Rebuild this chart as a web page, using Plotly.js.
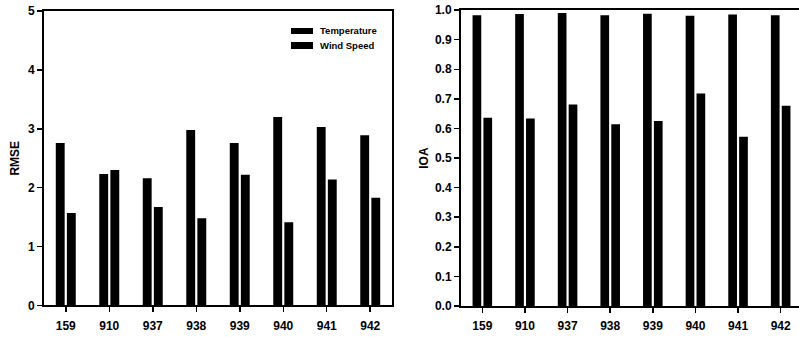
<!DOCTYPE html>
<html>
<head>
<meta charset="utf-8">
<script src="https://cdn.plot.ly/plotly-3.0.1.min.js"></script>
<style>html,body{margin:0;padding:0;background:#fff;}#chart{width:799px;height:337px;}</style>
</head>
<body>
<div id="chart"></div>
<script>
const stations = ['159', '910', '937', '938', '939', '940', '941', '942'];
const seriesNames = ['Temperature', 'Wind Speed'];
const rmseTemperature = [2.76, 2.23, 2.16, 2.98, 2.76, 3.20, 3.03, 2.89];
const rmseWindSpeed   = [1.57, 2.30, 1.67, 1.48, 2.22, 1.41, 2.14, 1.83];
const ioaTemperature  = [0.983, 0.987, 0.990, 0.983, 0.988, 0.981, 0.985, 0.983];
const ioaWindSpeed    = [0.636, 0.634, 0.681, 0.614, 0.625, 0.718, 0.572, 0.677];
const rmseTicks = [0, 1, 2, 3, 4, 5];
const ioaTicks = [0, 0.1, 0.2, 0.3, 0.4, 0.5, 0.6, 0.7, 0.8, 0.9, 1.0];

const FONT = 'Arial, "Liberation Sans", sans-serif';
const W = 799, H = 337;
const traces = [
  {type: 'bar', name: seriesNames[0], x: stations, y: rmseTemperature, xaxis: 'x', yaxis: 'y', marker: {color: '#000'}},
  {type: 'bar', name: seriesNames[1], x: stations, y: rmseWindSpeed, xaxis: 'x', yaxis: 'y', marker: {color: '#000'}},
  {type: 'bar', name: seriesNames[0], x: stations, y: ioaTemperature, xaxis: 'x2', yaxis: 'y2', marker: {color: '#000'}},
  {type: 'bar', name: seriesNames[1], x: stations, y: ioaWindSpeed, xaxis: 'x2', yaxis: 'y2', marker: {color: '#000'}}
];

const axisCommon = {
  showline: true, linecolor: '#000', linewidth: 2, ticks: 'outside', ticklen: 5,
  tickwidth: 1.5, tickcolor: '#000', showgrid: false, zeroline: false,
  tickfont: {family: FONT, size: 12, color: '#000', weight: 'bold'}
};

// legend keys (px positions converted to paper coords)
const px = x => x / W, py = y => 1 - y / H;
const legendRows = [{top: 28, bottom: 34}, {top: 42, bottom: 49}];
const shapes = legendRows.map(r => ({type: 'rect', xref: 'paper', yref: 'paper',
  x0: px(291), x1: px(313), y0: py(r.bottom), y1: py(r.top), fillcolor: '#000', line: {width: 0}}));
const annotations = legendRows.map((r, i) => ({xref: 'paper', yref: 'paper', x: px(318),
  y: py((r.top + r.bottom) / 2), xanchor: 'left', yanchor: 'middle', showarrow: false,
  text: seriesNames[i], font: {family: FONT, size: 9.5, color: '#000', weight: 'bold'}}));

const layout = {
  width: W, height: H,
  margin: {l: 0, r: 0, t: 0, b: 0},
  paper_bgcolor: '#fff', plot_bgcolor: '#fff',
  barmode: 'group', bargap: 0.49, bargroupgap: 0.2,
  showlegend: false,
  shapes: shapes, annotations: annotations,
  xaxis: Object.assign({}, axisCommon, {domain: [0.0551, 0.4906], anchor: 'y', type: 'category',
          range: [-0.5, 7.5], mirror: true, ticklabelstandoff: 3}),
  yaxis: Object.assign({}, axisCommon, {domain: [0.094, 0.967], anchor: 'x', range: [0, 5],
          tickvals: rmseTicks, mirror: true,
          title: {text: 'RMSE', standoff: 6, font: {family: FONT, size: 12, color: '#000', weight: 'bold'}}}),
  xaxis2: Object.assign({}, axisCommon, {domain: [0.577, 1.0], anchor: 'y2', type: 'category',
          range: [-0.5, 7.43], mirror: true, ticklabelstandoff: 3}),
  yaxis2: Object.assign({}, axisCommon, {domain: [0.092, 0.970], anchor: 'x2', range: [0, 1],
          tickvals: ioaTicks, tickformat: '.1f', mirror: false,
          title: {text: 'IOA', standoff: 4, font: {family: FONT, size: 12, color: '#000', weight: 'bold'}}})
};

Plotly.newPlot('chart', traces, layout, {staticPlot: true, displayModeBar: false});
</script>
</body>
</html>
